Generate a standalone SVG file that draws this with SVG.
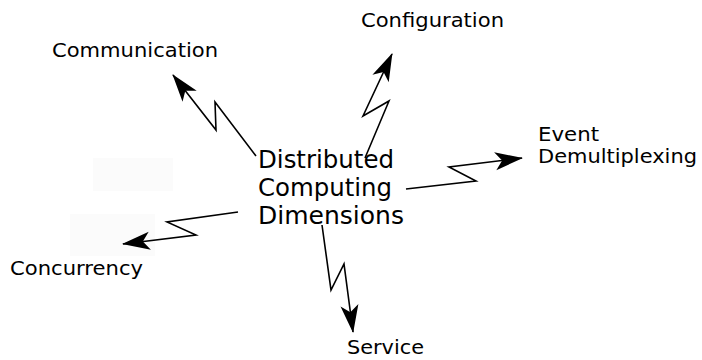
<svg xmlns="http://www.w3.org/2000/svg" width="702" height="360" viewBox="0 0 702 360">
<style>
  .lbl { font-family: "DejaVu Sans", "Noto Sans", sans-serif; font-size: 20px; fill: #000; }
  .ctr { font-family: "DejaVu Sans", "Noto Sans", sans-serif; font-size: 24px; fill: #000; }
  .bolt { fill: none; stroke: #000; stroke-width: 1.6; stroke-linejoin: miter; marker-end: url(#ah); }
  .ghost { fill: #fbfbfb; stroke: none; }
</style>
<defs>
  <marker id="ah" markerUnits="userSpaceOnUse" markerWidth="32" markerHeight="22" viewBox="-29 -11 32 22" refX="0" refY="0" orient="auto">
    <path d="M1,0 L-27,-9 L-20,0 L-27,9 Z" fill="#000"/>
  </marker>
</defs>
<rect width="702" height="360" fill="#fff"/>
<rect class="ghost" x="93" y="158" width="80" height="33"/>
<rect class="ghost" x="70" y="214" width="85" height="42"/>

<g id="connectors">
  <polyline class="bolt" points="256,156 215,102 216,130 173,75"/>
  <polyline class="bolt" points="365,158 389,101 363,116 392,54"/>
  <polyline class="bolt" points="406,189 476,181 449,167 522,158"/>
  <polyline class="bolt" points="238,212 167,222 196,235 123,244"/>
  <polyline class="bolt" points="322,225 331,290 344,264 353,332"/>
</g>

<g id="center">
  <text class="ctr" x="258" y="168" textLength="136" lengthAdjust="spacingAndGlyphs">Distributed</text>
  <text class="ctr" x="258" y="196" textLength="134" lengthAdjust="spacingAndGlyphs">Computing</text>
  <text class="ctr" x="258" y="224" textLength="146" lengthAdjust="spacingAndGlyphs">Dimensions</text>
</g>
<g id="communication">
  <text class="lbl" x="52" y="57" textLength="166" lengthAdjust="spacingAndGlyphs">Communication</text>
</g>
<g id="configuration">
  <text class="lbl" x="361" y="27" textLength="143" lengthAdjust="spacingAndGlyphs">Configuration</text>
</g>
<g id="event">
  <text class="lbl" x="538" y="141" textLength="61" lengthAdjust="spacingAndGlyphs">Event</text>
  <text class="lbl" x="538" y="163" textLength="159" lengthAdjust="spacingAndGlyphs">Demultiplexing</text>
</g>
<g id="concurrency">
  <text class="lbl" x="10" y="275" textLength="133" lengthAdjust="spacingAndGlyphs">Concurrency</text>
</g>
<g id="service">
  <text class="lbl" x="347" y="354" textLength="77" lengthAdjust="spacingAndGlyphs">Service</text>
</g>
</svg>
